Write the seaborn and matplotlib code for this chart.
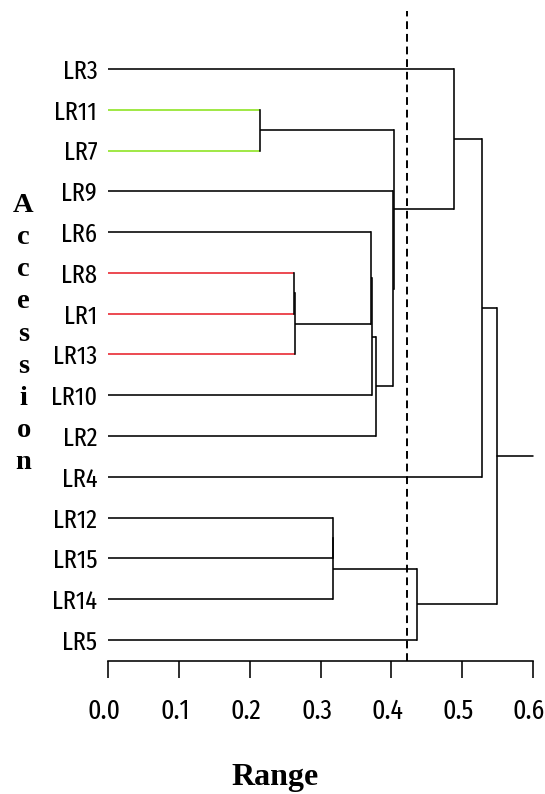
import matplotlib
matplotlib.use("Agg")
import matplotlib.pyplot as plt
import matplotlib.transforms as mtransforms
import seaborn as sns

# === Data ===
leaves = ["LR3", "LR11", "LR7", "LR9", "LR6", "LR8", "LR1", "LR13",
          "LR10", "LR2", "LR4", "LR12", "LR15", "LR14", "LR5"]

# merge i creates node "m{i+1}" from (left, right) at the given height
merge_left = ["LR11", "LR8", "m2", "LR6", "m4", "m5", "LR9",
              "m1", "LR3", "m9", "LR12", "m11", "m12", "m10"]
merge_right = ["LR7", "LR1", "LR13", "m3", "LR10", "LR2", "m6",
               "m7", "m8", "LR4", "LR15", "LR14", "LR5", "m13"]
merge_height = [0.215, 0.263, 0.264, 0.372, 0.373, 0.378, 0.403,
                0.404, 0.489, 0.529, 0.317, 0.318, 0.436, 0.550]

green_leaves = ["LR11", "LR7"]
red_leaves = ["LR8", "LR1", "LR13"]
cut_height = 0.4227
x_ticks = [0.0, 0.1, 0.2, 0.3, 0.4, 0.5, 0.6]
x_max = 0.6

# === Plot ===
sns.set_theme(style="white")
narrow = ["Fira Sans Extra Condensed", "Liberation Sans", "DejaVu Sans"]
serif = ["Liberation Serif", "DejaVu Serif"]
plt.rcParams["font.family"] = narrow
plt.rcParams["text.color"] = "black"
plt.rcParams["xtick.color"] = "black"
plt.rcParams["ytick.color"] = "black"
plt.rcParams["xtick.labelcolor"] = "black"
plt.rcParams["ytick.labelcolor"] = "black"

fig = plt.figure(figsize=(5.45, 7.94), dpi=100)
# axes box: x 0..0.6 over px 108..533, top at px 11, bottom spine at px 661
ax = fig.add_axes([108.3 / 545, (794 - 660.7) / 794,
                   424.4 / 545, 649.7 / 794])

pos = {name: i for i, name in enumerate(leaves)}
height = {name: 0.0 for name in leaves}


def leaf_color(name):
    if name in green_leaves:
        return "#8ae31c"
    if name in red_leaves:
        return "#e8212a"
    return "black"


lw = 1.15
for i, (a, b, h) in enumerate(zip(merge_left, merge_right, merge_height)):
    for child in (a, b):
        ax.plot([height[child], h], [pos[child], pos[child]],
                color=leaf_color(child), lw=lw, clip_on=False,
                solid_capstyle="butt")
    ax.plot([h, h], [pos[a], pos[b]], color="black", lw=lw,
            clip_on=False, solid_capstyle="projecting")
    node = f"m{i + 1}"
    pos[node] = (pos[a] + pos[b]) / 2
    height[node] = h

root = f"m{len(merge_height)}"
ax.plot([height[root], x_max], [pos[root], pos[root]], color="black",
        lw=lw, clip_on=False)

# cut line
ax.axvline(cut_height, color="black", lw=1.4, ls=(0, (4, 2.5)),
           clip_on=False)

ax.set_xlim(0, x_max)
ax.set_ylim(14.506, -1.42)

ax.set_xticks(x_ticks)
ax.set_xticklabels([f"{t:.1f}" for t in x_ticks], fontsize=20)
ax.set_yticks(range(len(leaves)))
ax.set_yticklabels(leaves, fontsize=19)

ax.tick_params(axis="x", direction="out", length=12.5, width=1.15,
               pad=14, color="black", labelcolor="black", bottom=True)
ax.tick_params(axis="y", length=0, pad=8, labelcolor="black")

# nudge the x tick labels a little left (as in the original)
shift = mtransforms.ScaledTranslation(-4 / 100, 0, fig.dpi_scale_trans)
for lab in ax.get_xticklabels():
    lab.set_transform(lab.get_transform() + shift)

for side in ["left", "top", "right"]:
    ax.spines[side].set_visible(False)
ax.spines["bottom"].set_color("black")
ax.spines["bottom"].set_linewidth(1.15)
ax.grid(False)

fig.text(275 / 545, 1 - 785 / 794, "Range", family=serif,
         fontweight="bold", fontsize=23, ha="center", va="baseline",
         color="black")

fig.text(23.5 / 545, 1 - 334 / 794, "\n".join("Accession"),
         family=serif, fontweight="bold", fontsize=20.5,
         ha="center", va="center", linespacing=1.37, color="black")

fig.savefig("out.png", dpi=100, facecolor="white")
